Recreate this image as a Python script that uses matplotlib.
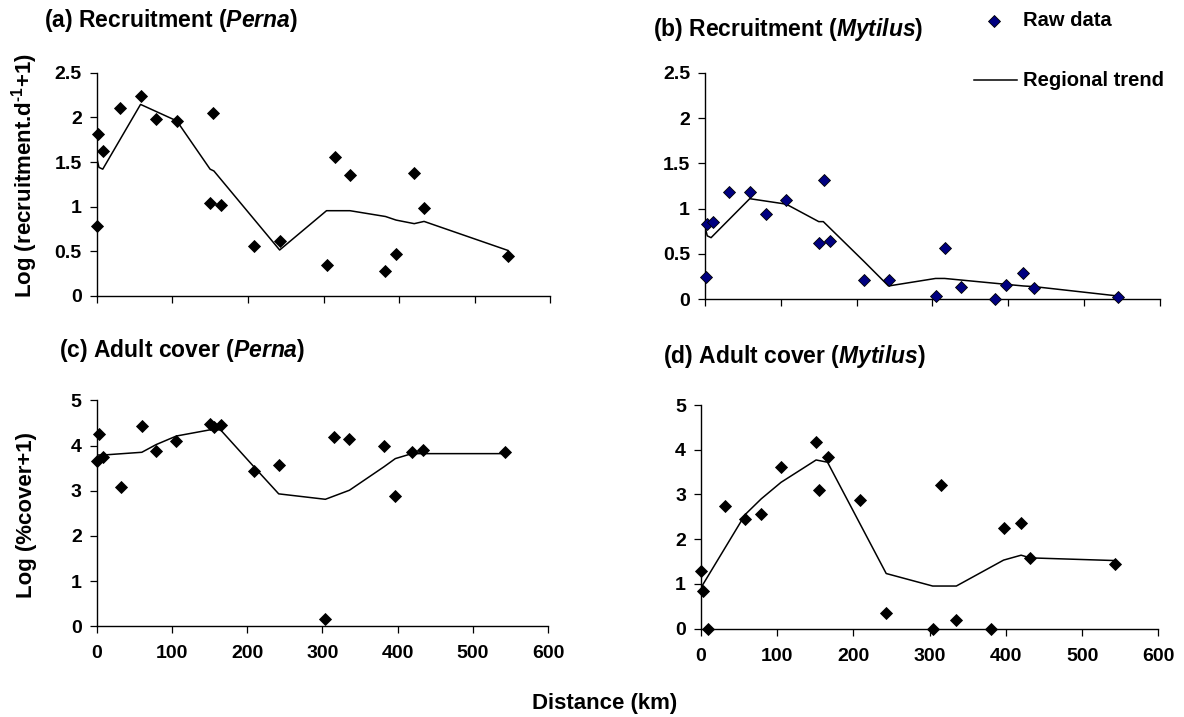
import numpy as np
import matplotlib
matplotlib.use('Agg')
import matplotlib.pyplot as plt
from matplotlib.lines import Line2D

plt.rcParams['font.family'] = ['Liberation Sans', 'DejaVu Sans']
plt.rcParams['font.weight'] = 'bold'
plt.rcParams['mathtext.fontset'] = 'custom'
plt.rcParams['mathtext.rm'] = 'Liberation Sans:bold'
plt.rcParams['mathtext.bf'] = 'Liberation Sans:bold'
plt.rcParams['mathtext.it'] = 'Liberation Sans:italic:bold'

# sampling distances (km)
dist_a = [0, 2, 8, 31, 58, 79, 106, 150, 154, 165, 208, 242, 304, 315, 335, 382, 396, 420, 433, 544]
dist_b = [1, 2, 10, 32, 59, 80, 107, 150, 157, 165, 210, 242, 304, 316, 338, 383, 397, 420, 434, 544]
dist_c = [1, 3, 9, 32, 60, 79, 106, 151, 156, 165, 209, 242, 304, 315, 336, 382, 397, 419, 434, 543]
dist_d = [0, 2, 9, 31, 58, 79, 105, 151, 155, 166, 209, 243, 304, 315, 335, 381, 397, 420, 432, 543]

# raw data
rec_perna = [0.78, 1.81, 1.62, 2.11, 2.235, 1.98, 1.955, 1.04, 2.045, 1.02,
             0.563, 0.62, 0.347, 1.56, 1.355, 0.28, 0.47, 1.373, 0.98, 0.45]
rec_mytilus = [0.243, 0.83, 0.85, 1.18, 1.18, 0.94, 1.095, 0.62, 1.32, 0.643,
               0.21, 0.21, 0.037, 0.57, 0.14, 0.0, 0.158, 0.294, 0.129, 0.022]
cov_perna = [3.66, 4.26, 3.75, 3.09, 4.44, 3.88, 4.10, 4.48, 4.42, 4.45,
             3.43, 3.57, 0.17, 4.19, 4.15, 3.99, 2.88, 3.85, 3.90, 3.85]
cov_mytilus = [1.28, 0.84, 0.0, 2.74, 2.46, 2.57, 3.62, 4.18, 3.09, 3.83,
               2.88, 0.35, 0.0, 3.2, 0.18, 0.0, 2.25, 2.36, 1.58, 1.44]

# regional trends (vertices)
trend_a_x = [0, 3, 8, 58, 106, 150, 155, 242, 304, 335, 382, 396, 420, 433, 544]
trend_a_y = [1.55, 1.44, 1.42, 2.145, 1.96, 1.42, 1.40, 0.515, 0.955, 0.955, 0.89, 0.85, 0.81, 0.835, 0.51]
trend_b_x = [0, 3, 8, 59, 107, 150, 156, 210, 242, 304, 316, 397, 420, 434, 544]
trend_b_y = [0.80, 0.70, 0.68, 1.11, 1.05, 0.857, 0.857, 0.415, 0.147, 0.23, 0.23, 0.165, 0.147, 0.14, 0.037]
trend_c_x = [0, 9, 60, 79, 106, 155, 165, 209, 242, 304, 336, 382, 397, 419, 434, 543]
trend_c_y = [3.79, 3.79, 3.85, 4.02, 4.21, 4.36, 4.34, 3.53, 2.93, 2.81, 3.01, 3.53, 3.71, 3.82, 3.82, 3.82]
trend_d_x = [0, 2, 58, 79, 105, 151, 166, 243, 304, 335, 397, 420, 432, 543]
trend_d_y = [0.86, 0.97, 2.55, 2.9, 3.27, 3.77, 3.72, 1.23, 0.95, 0.95, 1.53, 1.64, 1.58, 1.52]

x_ticks = [0, 100, 200, 300, 400, 500, 600]
rec_ticks = [0, 0.5, 1, 1.5, 2, 2.5]
rec_labels = ['0', '0.5', '1', '1.5', '2', '2.5']
cov_ticks = [0, 1, 2, 3, 4, 5]

W, H = 1184, 717
fig = plt.figure(figsize=(W / 100, H / 100), dpi=100)


def px_axes(left, right, top, bottom):
    return fig.add_axes([left / W, 1 - bottom / H, (right - left) / W, (bottom - top) / H])


ax_a = px_axes(96.7, 550.3, 72.7, 296)
ax_b = px_axes(705, 1160, 72.7, 299.3)
ax_c = px_axes(96.7, 548, 400.3, 626.3)
ax_d = px_axes(701, 1158.3, 405, 628.5)

panels = [
    (ax_a, dist_a, rec_perna, trend_a_x, trend_a_y, 'black', 2.5, rec_ticks, rec_labels, False),
    (ax_b, dist_b, rec_mytilus, trend_b_x, trend_b_y, '#000080', 2.5, rec_ticks, rec_labels, False),
    (ax_c, dist_c, cov_perna, trend_c_x, trend_c_y, 'black', 5, cov_ticks, [str(t) for t in cov_ticks], True),
    (ax_d, dist_d, cov_mytilus, trend_d_x, trend_d_y, 'black', 5, cov_ticks, [str(t) for t in cov_ticks], True),
]

for ax, xs, ys, tx, ty, fc, ymax, yt, ytl, xlab in panels:
    ax.plot(tx, ty, color='black', lw=1.1, zorder=2)
    ax.plot(xs, ys, linestyle='none', marker='D', ms=6.2, mfc=fc, mec='black', mew=0.6,
            zorder=3, clip_on=False)
    ax.set_xlim(0, 600)
    ax.set_ylim(0, ymax)
    ax.set_xticks(x_ticks)
    ax.set_yticks(yt)
    ax.set_yticklabels(ytl)
    if xlab:
        ax.set_xticklabels([str(t) for t in x_ticks])
    else:
        ax.set_xticklabels([])
    for s in ['top', 'right']:
        ax.spines[s].set_visible(False)
    for s in ['left', 'bottom']:
        ax.spines[s].set_linewidth(1.0)
    ax.tick_params(direction='out', length=4.8, width=0.9, labelsize=14, pad=6)
    ax.tick_params(axis='x', pad=9)
    for lab in ax.get_xticklabels() + ax.get_yticklabels():
        lab.set_fontweight('bold')

# titles
tsize = 16.5
fig.text(44 / W, 1 - 20.7 / H, '(a) Recruitment ($\\mathit{Perna}$)', fontsize=tsize, fontweight='bold', va='center')
fig.text(653.3 / W, 1 - 29.3 / H, '(b) Recruitment ($\\mathit{Mytilus}$)', fontsize=tsize, fontweight='bold', va='center')
fig.text(59.3 / W, 1 - 350.7 / H, '(c) Adult cover ($\\mathit{Perna}$)', fontsize=tsize, fontweight='bold', va='center')
fig.text(662.7 / W, 1 - 356 / H, '(d) Adult cover ($\\mathit{Mytilus}$)', fontsize=tsize, fontweight='bold', va='center')

# axis labels
fig.text(25 / W, 1 - 176 / H, 'Log (recruitment.d$^{\\text{-1}}$+1)', rotation=90, fontsize=16,
         fontweight='bold', ha='center', va='center')
fig.text(26.7 / W, 1 - 515 / H, 'Log (%cover+1)', rotation=90, fontsize=16,
         fontweight='bold', ha='center', va='center')
fig.text(604.7 / W, 1 - 703.3 / H, 'Distance (km)', fontsize=16, fontweight='bold', ha='center', va='center')

# legend
fig.lines.append(Line2D([994 / W], [1 - 20.7 / H], transform=fig.transFigure, marker='D', ms=6.2,
                        mfc='#000080', mec='black', mew=0.6, linestyle='none'))
fig.lines.append(Line2D([974 / W, 1017 / W], [1 - 80 / H, 1 - 80 / H], transform=fig.transFigure,
                        color='black', lw=1.1))
fig.text(1023 / W, 1 - 20.7 / H, 'Raw data', fontsize=14.5, fontweight='bold', va='center')
fig.text(1023 / W, 1 - 80 / H, 'Regional trend', fontsize=14.5, fontweight='bold', va='center')

fig.savefig('out.png', dpi=100)
